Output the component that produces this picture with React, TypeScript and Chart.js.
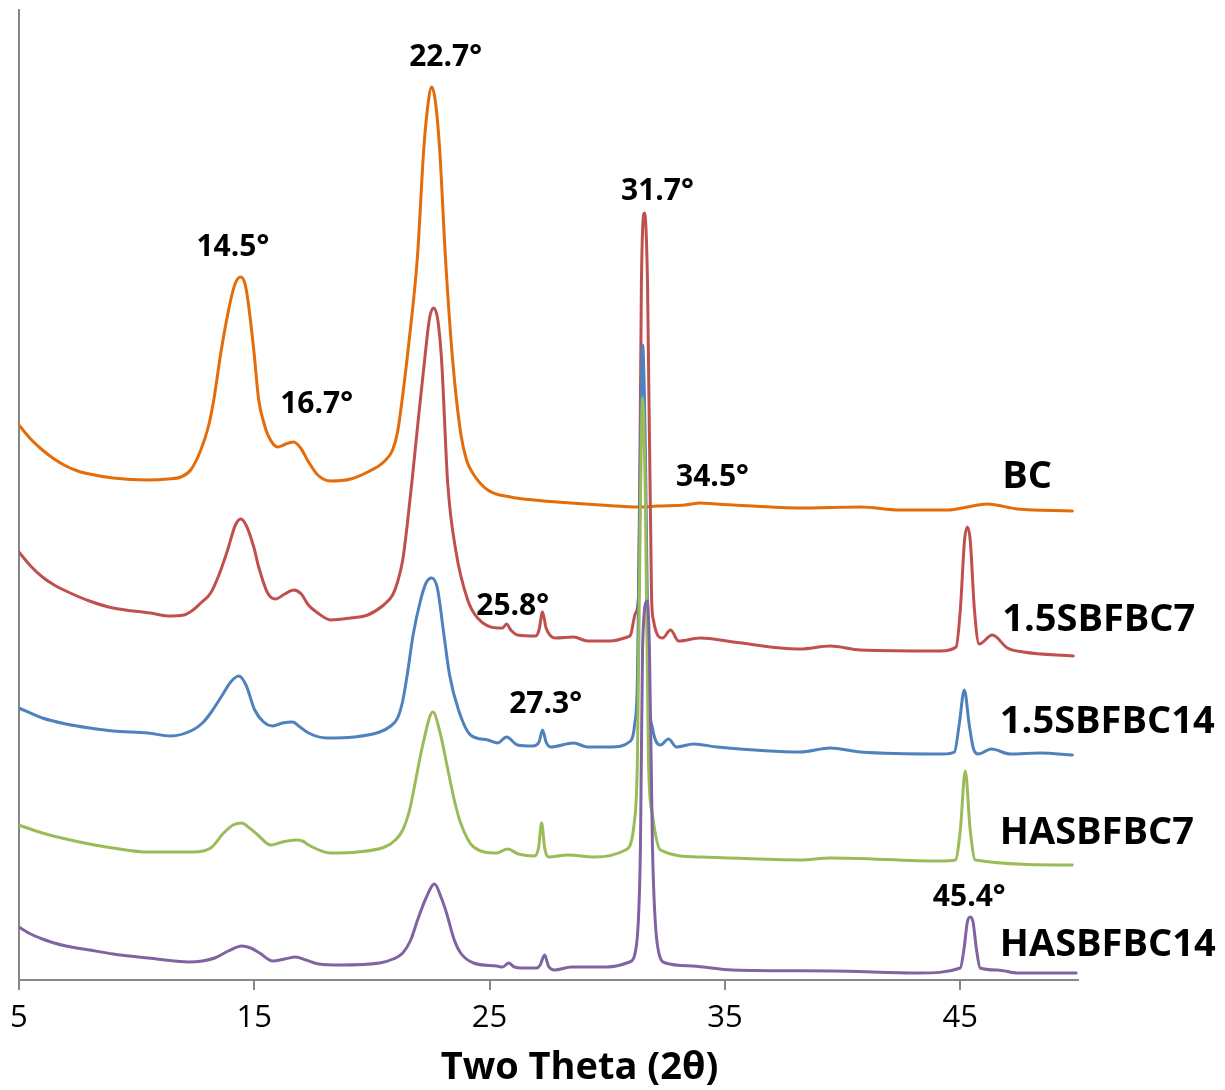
import React, { useEffect, useRef } from "react";
import { Chart, registerables } from "chart.js";

Chart.register(...registerables);

type Pt = [number, number];

// x axis (2θ) ticks
const xTicks = [5, 15, 25, 35, 45];
const xTitle = "Two Theta (2θ)";

const seriesNames = ["BC", "1.5SBFBC7", "1.5SBFBC14", "HASBFBC7", "HASBFBC14"];
const seriesColors = ["#E46C0A", "#C0504D", "#4F81BD", "#9BBB59", "#8064A2"];

// [2θ, intensity (a.u., offset traces)]
const bcData: Pt[] = [
  [5.0, 555], [5.5, 541], [6.0, 530], [6.5, 521], [7.0, 514], [7.5, 509], [8.0, 506], [9.0, 502],
  [10.5, 500], [11.33, 501], [11.88, 503], [12.3, 510], [12.73, 530], [13.07, 555], [13.28, 580],
  [13.6, 630], [14.0, 680], [14.2, 697], [14.42, 703], [14.6, 697], [14.73, 680], [14.98, 630],
  [15.19, 580], [15.4, 558], [15.6, 544], [16.0, 533], [16.34, 536], [16.68, 538], [16.97, 532],
  [17.31, 518], [17.7, 505], [18.25, 499], [19.1, 501], [19.82, 508], [20.5, 518], [20.88, 530],
  [21.09, 548], [21.31, 585], [21.56, 635], [21.94, 725], [22.2, 830], [22.38, 875], [22.54, 893],
  [22.7, 878], [22.88, 830], [23.13, 720], [23.43, 620], [23.77, 547], [24.02, 520], [24.28, 507],
  [24.92, 490], [25.89, 483], [26.87, 480], [28.44, 477], [29.71, 475], [31.41, 473], [32.13, 474],
  [33.3, 475], [33.96, 477], [34.6, 476], [35.36, 475], [38.2, 472], [40.75, 473], [42.45, 470],
  [44.5, 470], [45.3, 473], [46.15, 476], [47.42, 471], [49.76, 469],
];

const sbf7Data: Pt[] = [
  [5.0, 428], [5.5, 414], [6.0, 403], [6.5, 395], [7.0, 389], [8.0, 379], [9.0, 372], [10.6, 367],
  [11.33, 364], [12.01, 365], [12.4, 370], [12.73, 377], [13.15, 387], [13.5, 405], [13.87, 430],
  [14.2, 455], [14.43, 461], [14.65, 455], [14.98, 433], [15.19, 413], [15.57, 387], [15.91, 381],
  [16.3, 386], [16.68, 390], [17.0, 386], [17.3, 375], [17.7, 367], [18.25, 360], [19.1, 362],
  [19.82, 365], [20.5, 375], [20.88, 385], [21.09, 398], [21.31, 420], [21.5, 455], [21.73, 505],
  [21.99, 565], [22.24, 620], [22.45, 662], [22.62, 672], [22.8, 660], [22.96, 620], [23.22, 497],
  [23.56, 430], [24.07, 380], [24.49, 362], [25.34, 352], [25.55, 352], [25.72, 356], [25.9, 350],
  [26.19, 345], [26.95, 344], [27.1, 350], [27.25, 368], [27.4, 352], [27.8, 342], [28.57, 343],
  [29.16, 339], [30.14, 339], [30.86, 343], [30.99, 345], [31.2, 367], [31.33, 385], [31.45, 697],
  [31.58, 767], [31.71, 697], [31.88, 385], [31.96, 360], [32.35, 342], [32.69, 350], [33.03, 339],
  [33.96, 342], [35.36, 338], [38.2, 331], [39.48, 334], [40.75, 330], [44.15, 329], [44.82, 333],
  [45.0, 370], [45.18, 440], [45.3, 453], [45.42, 440], [45.6, 370], [45.8, 336], [46.36, 345],
  [47.0, 332], [47.68, 328], [49.8, 324],
];

const sbf14Data: Pt[] = [
  [5.0, 272], [6.0, 262], [7.0, 256], [8.0, 252], [9.0, 249], [10.48, 247], [11.45, 244], [12.39, 250],
  [12.8, 257], [13.15, 267], [13.7, 287], [14.0, 298], [14.34, 304], [14.65, 295], [15.02, 270],
  [15.4, 258], [15.79, 254], [16.2, 257], [16.63, 258], [16.95, 253], [17.31, 247], [18.08, 242],
  [19.23, 243], [20.33, 248], [20.8, 254], [21.09, 262], [21.3, 278], [21.5, 305], [21.75, 345],
  [22.07, 380], [22.3, 397], [22.54, 402], [22.78, 392], [23.05, 347], [23.3, 305], [23.68, 270],
  [24.19, 245], [24.92, 240], [25.34, 237], [25.72, 243], [26.19, 235], [26.83, 234], [27.1, 238],
  [27.25, 250], [27.4, 238], [27.59, 233], [28.57, 237], [29.16, 233], [30.14, 233], [30.99, 239],
  [31.16, 255], [31.28, 300], [31.41, 530], [31.5, 635], [31.62, 530], [31.75, 300], [31.92, 252],
  [32.26, 235], [32.6, 241], [32.94, 233], [33.66, 236], [34.68, 233], [38.2, 228], [39.48, 232],
  [40.75, 228], [44.28, 226], [44.75, 228], [44.95, 255], [45.17, 290], [45.38, 255], [45.55, 232],
  [45.76, 226], [46.32, 231], [47.12, 226], [48.4, 227], [49.76, 225],
];

const ha7Data: Pt[] = [
  [5.0, 155], [6.0, 147], [7.0, 141], [8.0, 136], [9.0, 132], [10.5, 128], [12.39, 128], [13.15, 132],
  [13.7, 147], [14.1, 155], [14.47, 157], [14.8, 152], [15.15, 145], [15.7, 135], [16.2, 138],
  [16.76, 140], [17.05, 139], [17.31, 135], [18.25, 127], [19.39, 128], [20.54, 133], [21.0, 140],
  [21.31, 150], [21.6, 170], [21.86, 200], [22.16, 235], [22.59, 268], [22.92, 245], [23.17, 217],
  [23.5, 180], [23.77, 157], [24.32, 133], [25.3, 127], [25.76, 131], [26.23, 126], [26.9, 124],
  [27.08, 132], [27.21, 157], [27.34, 132], [27.5, 123], [28.31, 125], [29.46, 123], [30.77, 130],
  [31.16, 160], [31.28, 220], [31.41, 480], [31.5, 582], [31.62, 480], [31.75, 220], [31.92, 165],
  [32.26, 130], [33.96, 123], [38.2, 120], [39.48, 122], [44.15, 119], [44.79, 120], [45.0, 150],
  [45.21, 209], [45.42, 150], [45.64, 120], [49.76, 115],
];

const ha14Data: Pt[] = [
  [5.0, 53], [5.5, 46], [6.0, 41], [6.5, 37], [7.0, 34], [8.0, 30], [9.0, 26], [10.5, 22], [12.22, 18],
  [12.8, 19], [13.32, 22], [13.9, 29], [14.47, 34], [14.85, 32], [15.23, 27], [15.79, 19], [16.3, 21],
  [16.76, 23], [17.2, 20], [17.74, 16], [18.63, 15], [20.33, 17], [20.9, 21], [21.31, 27], [21.65, 40],
  [21.94, 60], [22.3, 82], [22.66, 96], [22.95, 82], [23.17, 67], [23.5, 40], [23.77, 27], [24.32, 17],
  [25.3, 14], [25.55, 13], [25.81, 17], [26.05, 13], [26.4, 12], [27.0, 12], [27.15, 15], [27.34, 25],
  [27.5, 14], [27.76, 10], [28.48, 13], [30.01, 13], [30.95, 18], [31.24, 35], [31.41, 133],
  [31.5, 333], [31.69, 379], [31.79, 333], [31.92, 133], [32.13, 35], [32.47, 17], [33.62, 14],
  [35.32, 10], [39.52, 9], [43.26, 7], [45.0, 12], [45.15, 30], [45.3, 58], [45.42, 63], [45.54, 58],
  [45.69, 30], [45.84, 12], [46.57, 10], [47.46, 7], [49.92, 7],
];

const allSeries: Pt[][] = [bcData, sbf7Data, sbf14Data, ha7Data, ha14Data];

// peak annotations: text and [2θ, intensity] anchor (centre)
const peakLabels = ["14.5°", "16.7°", "22.7°", "25.8°", "27.3°", "31.7°", "34.5°", "45.4°"];
const peakLabelPos: Pt[] = [
  [14.09, 733], [17.65, 576], [23.13, 923], [25.98, 374], [27.38, 276], [32.13, 789], [34.47, 503], [45.38, 83],
];
// series name anchors (left edge, middle)
const seriesLabelPos: Pt[] = [
  [46.78, 503], [46.78, 360], [46.68, 258], [46.68, 147], [46.68, 35],
];
const xTitleCenter = 28.82;

const FONT = "'Open Sans', 'DejaVu Sans', sans-serif";

export default function App() {
  const ref = useRef<HTMLCanvasElement>(null);

  useEffect(() => {
    const canvas = ref.current;
    if (!canvas) return;

    const labelPlugin = {
      id: "xrdLabels",
      afterDraw(chart: any) {
        const { ctx, scales } = chart;
        const x = scales.x;
        const y = scales.y;
        ctx.save();
        ctx.fillStyle = "#000";
        ctx.textBaseline = "middle";
        ctx.textAlign = "center";
        ctx.font = `bold 30px ${FONT}`;
        peakLabels.forEach((t, i) => {
          ctx.fillText(t, x.getPixelForValue(peakLabelPos[i][0]), y.getPixelForValue(peakLabelPos[i][1]));
        });
        ctx.textAlign = "left";
        ctx.font = `bold 38px ${FONT}`;
        seriesNames.forEach((t, i) => {
          ctx.fillText(t, x.getPixelForValue(seriesLabelPos[i][0]), y.getPixelForValue(seriesLabelPos[i][1]));
        });
        ctx.textAlign = "center";
        ctx.fillText(xTitle, x.getPixelForValue(xTitleCenter), x.bottom - 22);
        ctx.restore();
      },
    };

    const chart = new Chart(canvas, {
      type: "line",
      data: {
        datasets: allSeries.map((d, i) => ({
          label: seriesNames[i],
          data: d.map(([a, b]) => ({ x: a, y: b })),
          borderColor: seriesColors[i],
          backgroundColor: seriesColors[i],
          borderWidth: 3,
          pointRadius: 0,
          cubicInterpolationMode: "monotone" as const,
          borderJoinStyle: "round" as const,
          borderCapStyle: "round" as const,
          fill: false,
          order: allSeries.length - 1 - i,
        })),
      },
      options: {
        responsive: false,
        animation: false,
        devicePixelRatio: 1,
        layout: { padding: { left: 18, right: 147, top: 10, bottom: 0 } },
        plugins: { legend: { display: false }, tooltip: { enabled: false } },
        scales: {
          x: {
            type: "linear",
            min: 5,
            max: 50,
            afterBuildTicks: (s: any) => {
              s.ticks = xTicks.map((v) => ({ value: v }));
            },
            afterFit: (s: any) => {
              s.height = 110;
            },
            border: { color: "#868686", width: 2 },
            grid: {
              display: true,
              drawOnChartArea: false,
              drawTicks: true,
              tickLength: 10,
              color: "#868686",
              lineWidth: 2,
            },
            ticks: {
              color: "#000",
              font: { size: 31, family: FONT },
              padding: 10,
              maxRotation: 0,
              autoSkip: false,
            },
          },
          y: {
            type: "linear",
            min: 0,
            max: 970,
            afterFit: (s: any) => {
              s.width = 0;
            },
            ticks: { display: false },
            grid: { display: false },
            border: { color: "#868686", width: 2 },
          },
        },
      },
      plugins: [labelPlugin],
    });

    return () => chart.destroy();
  }, []);

  return (
    <div style={{ position: "fixed", left: 0, top: 0, width: 1225, height: 1090, background: "#fff" }}>
      <canvas ref={ref} width={1225} height={1090} style={{ width: 1225, height: 1090, display: "block" }} />
    </div>
  );
}
